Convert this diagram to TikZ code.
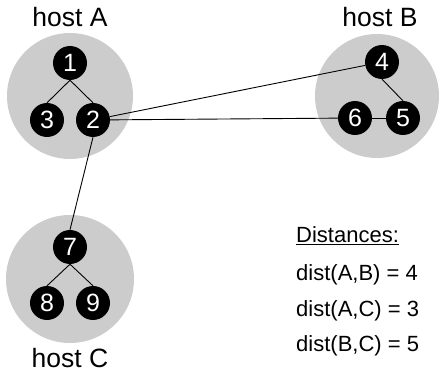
\documentclass[tikz,border=0pt]{standalone}
\usepackage{fontspec}
\setmainfont{Liberation Sans}
\begin{document}
\begin{tikzpicture}[x=1pt,y=-1pt,
  host/.style={fill=hostgray,draw=none},
  vert/.style={circle,fill=black,draw=none,text=white,minimum size=34pt,inner sep=0pt,font=\fontsize{25}{25}\selectfont},
  link/.style={draw=black,line width=0.9pt},
  hostlabel/.style={anchor=base,inner sep=0pt,font=\fontsize{26.5}{30}\selectfont},
  distlabel/.style={anchor=base west,inner sep=0pt,font=\fontsize{22}{26}\selectfont}]
\definecolor{hostgray}{RGB}{204,204,204}
\useasboundingbox (0,0) rectangle (440,377);
% host areas
\fill[host] (70,96) circle (63);
\fill[host] (377,96) circle (62);
\fill[host] (70,279) circle (64);
% vertices
\node[vert] (n1) at (70,63) {1};
\node[vert] (n3) at (47,120) {3};
\node[vert] (n2) at (93,120) {2};
\node[vert] (n4) at (382,62) {4};
\node[vert] (n6) at (355,118) {6};
\node[vert] (n5) at (403,118) {5};
\node[vert] (n7) at (70,247) {7};
\node[vert] (n8) at (47,303) {8};
\node[vert] (n9) at (93,303) {9};
% edges
\draw[link] (n1.south) -- (n3.north);
\draw[link] (n1.south) -- (n2.north);
\draw[link] (n7.south) -- (n8.north);
\draw[link] (n7.south) -- (n9.north);
\draw[link] (n4.south) -- (n5.north);
\draw[link] (n6) -- (n5);
\draw[link] (n2) -- (n4);
\draw[link] (n2) -- (n6);
\draw[link] (n2.south) -- (n7.north);
% host labels
\node[hostlabel] (la) at (70,27) {host A};
\node[hostlabel] (lb) at (380,27) {host B};
\node[hostlabel] (lc) at (70,368) {host C};
% distances
\node[distlabel] (dh) at (296,243) {\underline{Distances:}};
\node[distlabel] (d1) at (296,281) {dist(A,B) = 4};
\node[distlabel] (d2) at (296,317) {dist(A,C) = 3};
\node[distlabel] (d3) at (296,352) {dist(B,C) = 5};
\end{tikzpicture}
\end{document}
